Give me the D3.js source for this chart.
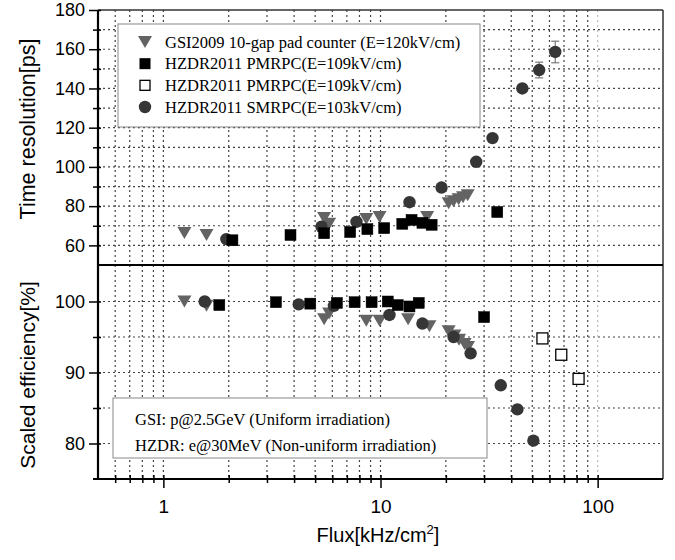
<!DOCTYPE html>
<html>
<head>
<meta charset="utf-8">
<script src="https://cdn.jsdelivr.net/npm/d3@7"></script>
<style>
	body { margin: 0; background: #fff; }
	text { fill: #000; }
	.sans { font-family: "Liberation Sans", Arial, sans-serif; }
	.serif { font-family: "Liberation Serif", "Times New Roman", serif; }
	.grid line { stroke: #444; stroke-width: 1.2; stroke-dasharray: 2,3; }
</style>
</head>
<body>
<div id="chart"></div>
<script>

// ---- data ----
// upper panel: time resolution [ps]
var gsiTimeFlux = [1.25, 1.58, 5.5, 5.8, 8.6, 9.9, 16.4, 20.6, 21.7, 22.9, 24.0, 25.2];
var gsiTimeRes  = [66.3, 65.3, 74, 71, 73.4, 74.5, 74.5, 81.5, 82.5, 83.5, 84.5, 85.5];

var pmTimeFlux = [2.08, 3.85, 5.5, 7.25, 8.7, 10.4, 12.6, 13.9, 15.6, 17.2, 34.5];
var pmTimeRes  = [62.6, 65.3, 66.2, 66.8, 68.3, 68.8, 71, 73, 71.5, 70.5, 77];

var smTimeFlux = [1.95, 5.35, 7.75, 13.6, 19.1, 27.6, 32.8, 45, 53.8, 63.8];
var smTimeRes  = [63.2, 69.5, 72, 82, 89.5, 102.6, 114.7, 140, 149.4, 158.6];
var smTimeErr  = [0, 0, 0, 0, 0, 0, 0, 0, 4, 5.5];

// lower panel: scaled efficiency [%]
var gsiEffFlux = [1.25, 1.58, 5.5, 5.8, 8.6, 9.9, 13.4, 16.8, 20.6, 21.9, 23.0, 24.4, 25.3];
var gsiEff     = [100, 99.4, 97.5, 98.3, 97.3, 97.3, 97.5, 96.5, 95.8, 95.2, 94.6, 94.0, 93.6];

var pmEffFlux = [1.81, 3.3, 4.75, 6.3, 7.6, 9.1, 10.8, 12.0, 13.6, 15.0, 30.0];
var pmEff     = [99.5, 99.9, 99.7, 99.8, 99.9, 99.9, 100, 99.5, 99.3, 99.8, 97.8];

var pmHighFlux = [55.7, 68, 81.7];
var pmHighEff  = [94.8, 92.5, 89.1];

var smEffFlux = [1.55, 4.2, 6.1, 11, 15.6, 21.7, 26, 35.8, 42.7, 50.6];
var smEff     = [100, 99.6, 99.4, 98.1, 96.9, 95, 92.7, 88.2, 84.8, 80.4];

var legendLabels = [
	"GSI2009 10-gap pad counter (E=120kV/cm)",
	"HZDR2011 PMRPC(E=109kV/cm)",
	"HZDR2011 PMRPC(E=109kV/cm)",
	"HZDR2011 SMRPC(E=103kV/cm)"
];
var noteLabels = [
	"GSI: p@2.5GeV (Uniform irradiation)",
	"HZDR: e@30MeV (Non-uniform irradiation)"
];

var xMajor = [1, 10, 100];
var xMinor = [0.6, 0.7, 0.8, 0.9, 2, 3, 4, 5, 6, 7, 8, 9, 20, 30, 40, 50, 60, 70, 80, 90];
var topMajor = [60, 80, 100, 120, 140, 160, 180];
var topMinor = [70, 90, 110, 130, 150, 170];
var botMajor = [80, 90, 100];
var botMinor = [85, 95];

// ---- layout ----
var width = 675, height = 560;
var plotL = 98, plotR = 663, plotT = 10, plotMid = 265, plotB = 479;

var x = d3.scaleLog().domain([0.5, 200]).range([plotL, plotR]);
var yTop = d3.scaleLinear().domain([50, 180]).range([plotMid, plotT]);
var yBot = d3.scaleLinear().domain([75, 105]).range([plotB, plotMid + 1]);

var svg = d3.select("#chart").append("svg")
	.attr("width", width).attr("height", height);

// ---- grid ----
var grid = svg.append("g").attr("class", "grid");

grid.selectAll("line.v").data(xMinor.concat(xMajor)).enter().append("line")
	.attr("x1", d => x(d)).attr("x2", d => x(d))
	.attr("y1", plotT).attr("y2", plotB)
	.style("stroke", d => d == 100 ? "#bbb" : null);

grid.selectAll("line.ht").data([60, 70, 80, 90, 100, 110, 120, 130, 140, 150, 160, 170]).enter().append("line")
	.attr("x1", plotL).attr("x2", plotR)
	.attr("y1", d => yTop(d)).attr("y2", d => yTop(d));

grid.selectAll("line.hb").data([80, 85, 90, 95, 100]).enter().append("line")
	.attr("x1", plotL).attr("x2", plotR)
	.attr("y1", d => yBot(d)).attr("y2", d => yBot(d));

// ---- legend boxes (white, they hide the grid) ----
var legendG = svg.append("g");
legendG.append("rect")
	.attr("x", 118).attr("y", 24).attr("width", 362).attr("height", 103)
	.attr("fill", "#fff").attr("stroke", "#888").attr("stroke-width", 1);

var noteG = svg.append("g");
noteG.append("rect")
	.attr("x", 113).attr("y", 398).attr("width", 374).attr("height", 60)
	.attr("fill", "#fff").attr("stroke", "#888").attr("stroke-width", 1);

// ---- marker helpers ----
var triPath = "M-7,-6L7,-6L0,6Z";

function zip(xs, ys) {
	return xs.map((v, i) => ({ x: v, y: ys[i], i: i }));
}

function drawTriangles(g, pts, yScale) {
	g.selectAll(null).data(pts).enter().append("path")
		.attr("d", triPath)
		.attr("transform", d => "translate(" + x(d.x) + "," + yScale(d.y) + ")")
		.attr("fill", "#636363");
}
function drawCircles(g, pts, yScale) {
	g.selectAll(null).data(pts).enter().append("circle")
		.attr("cx", d => x(d.x)).attr("cy", d => yScale(d.y))
		.attr("r", 6.2).attr("fill", "#363636");
}
function drawSquares(g, pts, yScale, open) {
	g.selectAll(null).data(pts).enter().append("rect")
		.attr("x", d => x(d.x) - 5.5).attr("y", d => yScale(d.y) - 5.5)
		.attr("width", 11).attr("height", 11)
		.attr("fill", open ? "#fff" : "#000")
		.attr("stroke", "#000").attr("stroke-width", open ? 1.3 : 0.5);
}

// ---- upper panel points ----
var upper = svg.append("g");

// error bars on the last SMRPC points
var errPts = zip(smTimeFlux, smTimeRes).filter(d => smTimeErr[d.i] > 0);
var eb = upper.selectAll("g.err").data(errPts).enter().append("g")
	.attr("stroke", "#777").attr("stroke-width", 1.2);
eb.append("line")
	.attr("x1", d => x(d.x)).attr("x2", d => x(d.x))
	.attr("y1", d => yTop(d.y - smTimeErr[d.i])).attr("y2", d => yTop(d.y + smTimeErr[d.i]));
eb.append("line")
	.attr("x1", d => x(d.x) - 4).attr("x2", d => x(d.x) + 4)
	.attr("y1", d => yTop(d.y - smTimeErr[d.i])).attr("y2", d => yTop(d.y - smTimeErr[d.i]));
eb.append("line")
	.attr("x1", d => x(d.x) - 4).attr("x2", d => x(d.x) + 4)
	.attr("y1", d => yTop(d.y + smTimeErr[d.i])).attr("y2", d => yTop(d.y + smTimeErr[d.i]));

drawTriangles(upper, zip(gsiTimeFlux, gsiTimeRes), yTop);
drawCircles(upper, zip(smTimeFlux, smTimeRes), yTop);
drawSquares(upper, zip(pmTimeFlux, pmTimeRes), yTop, false);

// ---- lower panel points ----
var lower = svg.append("g");
drawTriangles(lower, zip(gsiEffFlux, gsiEff), yBot);
drawCircles(lower, zip(smEffFlux, smEff), yBot);
drawSquares(lower, zip(pmEffFlux, pmEff), yBot, false);
drawSquares(lower, zip(pmHighFlux, pmHighEff), yBot, true);

// ---- legend contents ----
var rowY = d3.scaleLinear().domain([0, 3]).range([42, 107]);
var legendRows = legendG.selectAll("g.row").data(legendLabels).enter().append("g")
	.attr("transform", (d, i) => "translate(145," + rowY(i) + ")");

legendRows.filter((d, i) => i == 0).append("path").attr("d", triPath).attr("fill", "#636363");
legendRows.filter((d, i) => i == 1).append("rect")
	.attr("x", -5.5).attr("y", -5.5).attr("width", 11).attr("height", 11).attr("fill", "#000");
legendRows.filter((d, i) => i == 2).append("rect")
	.attr("x", -5).attr("y", -5).attr("width", 10).attr("height", 10)
	.attr("fill", "#fff").attr("stroke", "#000").attr("stroke-width", 1.3);
legendRows.filter((d, i) => i == 3).append("circle").attr("r", 6.2).attr("fill", "#363636");

legendRows.append("text").attr("class", "serif")
	.attr("x", 20).attr("y", 5.5)
	.style("font-size", "16.5px")
	.text(d => d);

noteG.selectAll("text").data(noteLabels).enter().append("text").attr("class", "serif")
	.attr("x", 135).attr("y", (d, i) => 425 + i * 26)
	.style("font-size", "16.5px")
	.text(d => d);

// ---- frame ----
svg.append("line").attr("x1", plotL).attr("x2", plotR).attr("y1", plotT).attr("y2", plotT)
	.attr("stroke", "#333").attr("stroke-width", 1.5);
svg.append("line").attr("x1", plotR).attr("x2", plotR).attr("y1", plotT).attr("y2", plotB)
	.attr("stroke", "#333").attr("stroke-width", 1.5);
svg.append("line").attr("x1", plotL).attr("x2", plotR).attr("y1", plotMid).attr("y2", plotMid)
	.attr("stroke", "#000").attr("stroke-width", 2.2);

// ---- axes ----
function styleAxis(g) {
	g.select(".domain").remove();
	g.selectAll(".tick line").attr("stroke", "#000").attr("stroke-width", 1.5);
	g.selectAll(".tick text").attr("class", "sans").style("font-size", "18px").attr("fill", "#000");
}

// bottom
var xAxisMajor = svg.append("g").attr("transform", "translate(0," + plotB + ")")
	.call(d3.axisBottom(x).tickValues(xMajor).tickSize(9).tickPadding(12).tickFormat(d3.format("d")));
styleAxis(xAxisMajor);
xAxisMajor.selectAll(".tick line").attr("y1", -4);
xAxisMajor.selectAll(".tick text").style("font-size", "19px");

var xAxisMinor = svg.append("g").attr("transform", "translate(0," + plotB + ")")
	.call(d3.axisBottom(x).tickValues(xMinor).tickSize(4).tickFormat(""));
styleAxis(xAxisMinor);
xAxisMinor.selectAll(".tick line").attr("y1", -4);

// left, upper panel
var yTopMajor = svg.append("g").attr("transform", "translate(" + plotL + ",0)")
	.call(d3.axisLeft(yTop).tickValues(topMajor).tickSize(9).tickPadding(4));
styleAxis(yTopMajor);
yTopMajor.selectAll(".tick line").attr("x1", 3);
var yTopMinor = svg.append("g").attr("transform", "translate(" + plotL + ",0)")
	.call(d3.axisLeft(yTop).tickValues(topMinor).tickSize(5).tickFormat(""));
styleAxis(yTopMinor);
yTopMinor.selectAll(".tick line").attr("x1", 3);

// left, lower panel
var yBotMajor = svg.append("g").attr("transform", "translate(" + plotL + ",0)")
	.call(d3.axisLeft(yBot).tickValues(botMajor).tickSize(9).tickPadding(4));
styleAxis(yBotMajor);
yBotMajor.selectAll(".tick line").attr("x1", 3);
var yBotMinor = svg.append("g").attr("transform", "translate(" + plotL + ",0)")
	.call(d3.axisLeft(yBot).tickValues(botMinor).tickSize(5).tickFormat(""));
styleAxis(yBotMinor);
yBotMinor.selectAll(".tick line").attr("x1", 3);

// axis lines drawn last so they sit on top
svg.append("line").attr("x1", plotL).attr("x2", plotL).attr("y1", plotT).attr("y2", plotB + 1)
	.attr("stroke", "#000").attr("stroke-width", 2.2);
svg.append("line").attr("x1", plotL - 5).attr("x2", plotR).attr("y1", plotB).attr("y2", plotB)
	.attr("stroke", "#000").attr("stroke-width", 2.2);

// ---- axis titles ----
svg.append("text").attr("class", "sans")
	.attr("transform", "translate(35,129) rotate(-90)")
	.attr("text-anchor", "middle").style("font-size", "21.5px")
	.text("Time resolution[ps]");

svg.append("text").attr("class", "sans")
	.attr("transform", "translate(35,375) rotate(-90)")
	.attr("text-anchor", "middle").style("font-size", "21px")
	.text("Scaled efficiency[%]");

var xt = svg.append("text").attr("class", "sans")
	.attr("x", 378).attr("y", 542)
	.attr("text-anchor", "middle").style("font-size", "20px");
xt.append("tspan").text("Flux[kHz/cm");
xt.append("tspan").attr("dy", -8).style("font-size", "13px").text("2");
xt.append("tspan").attr("dy", 8).text("]");

</script>
</body>
</html>
